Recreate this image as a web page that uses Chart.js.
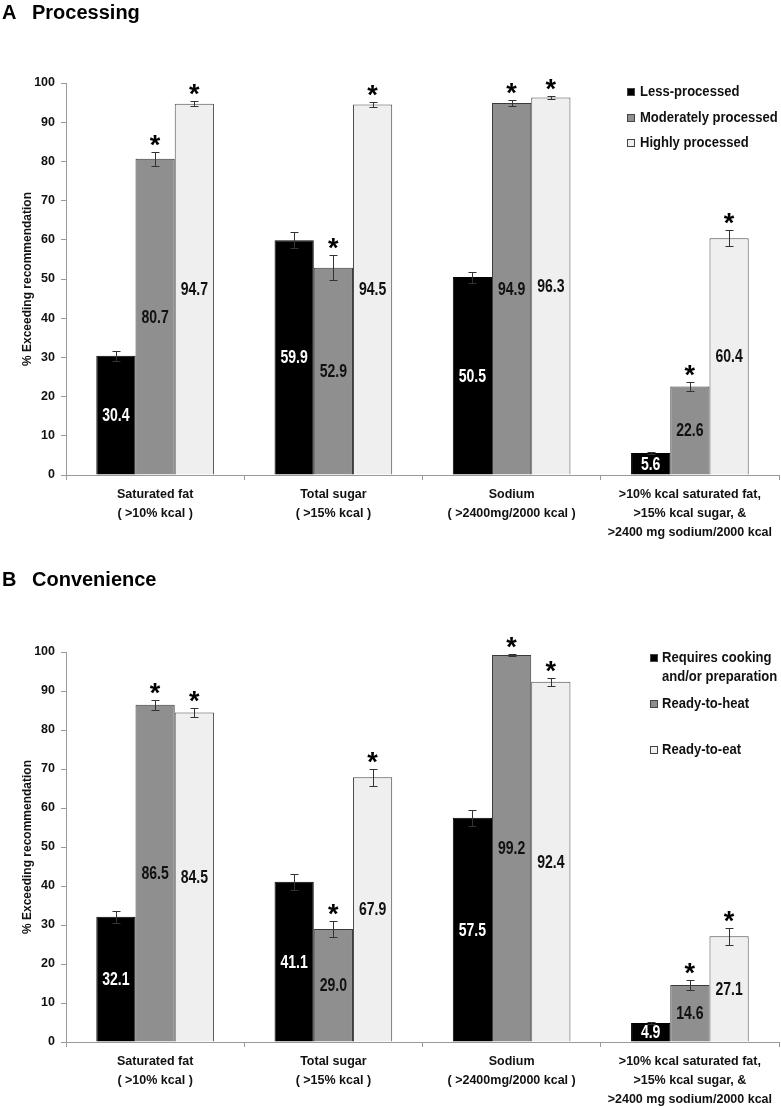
<!DOCTYPE html>
<html>
<head>
<meta charset="utf-8">
<script src="https://cdn.jsdelivr.net/npm/chart.js@4.4.1/dist/chart.umd.min.js"></script>
<style>
  body { margin: 0; background: #fff; width: 781px; height: 1106px; overflow: hidden; position: relative; }
  .panel { position: absolute; left: 0; width: 781px; height: 553px; }
</style>
</head>
<body>
<div class="panel" style="top:0"><canvas id="chartA" width="781" height="553"></canvas></div>
<div class="panel" style="top:567px"><canvas id="chartB" width="781" height="553"></canvas></div>
<script>
const FONT = "'Liberation Sans', Arial, sans-serif";

// x categories (multi-line)
const categories = [
  ['Saturated fat', '( >10% kcal )'],
  ['Total sugar', '( >15% kcal )'],
  ['Sodium', '( >2400mg/2000 kcal )'],
  ['>10% kcal saturated fat,', '>15% kcal sugar, &', '>2400 mg sodium/2000 kcal']
];

// Panel A - processing
const procLabels = ['Less-processed', 'Moderately processed', 'Highly processed'];
const lessProcessed = [30.4, 59.9, 50.5, 5.6];
const lessProcessedErr = [1.3, 2.1, 1.4, 0.3];
const lessProcessedSig = [false, false, false, false];
const modProcessed = [80.7, 52.9, 94.9, 22.6];
const modProcessedErr = [1.8, 3.1, 0.65, 1.15];
const modProcessedSig = [true, true, true, true];
const highProcessed = [94.7, 94.5, 96.3, 60.4];
const highProcessedErr = [0.6, 0.6, 0.4, 2.0];
const highProcessedSig = [true, true, true, true];

// Panel B - convenience
const convLabels = [['Requires cooking', 'and/or preparation'], 'Ready-to-heat', 'Ready-to-eat'];
const reqCooking = [32.1, 41.1, 57.5, 4.9];
const reqCookingErr = [1.5, 2.1, 2.0, 0.3];
const reqCookingSig = [false, false, false, false];
const readyHeat = [86.5, 29.0, 99.2, 14.6];
const readyHeatErr = [1.3, 2.0, 0.2, 1.3];
const readyHeatSig = [true, true, true, true];
const readyEat = [84.5, 67.9, 92.4, 27.1];
const readyEatErr = [1.2, 2.2, 1.0, 2.1];
const readyEatSig = [true, true, true, true];

const yTicks = [0, 10, 20, 30, 40, 50, 60, 70, 80, 90, 100];

const fills = ['#000000', '#8f8f8f', '#efefef'];
const edges = ['#000000', '#3a3a3a', '#4a4a4a'];

// draw text squeezed horizontally (the original uses a narrow face)
function narrowText(ctx, text, x, y, squeeze) {
  ctx.save();
  ctx.translate(x, y);
  ctx.scale(squeeze, 1);
  ctx.fillText(text, 0, 0);
  ctx.restore();
}

// error bars, values inside bars, asterisks
const barMarks = {
  id: 'barMarks',
  afterDatasetsDraw(chart) {
    const ctx = chart.ctx;
    const ys = chart.scales.y;
    chart.data.datasets.forEach((ds, i) => {
      chart.getDatasetMeta(i).data.forEach((bar, j) => {
        const v = ds.data[j];
        const e = ds.errors[j];
        const yTop = Math.round(ys.getPixelForValue(v + e)) + 0.5;
        const yBot = Math.round(ys.getPixelForValue(v - e)) + 0.5;
        const x = Math.round(bar.x) + 0.5;
        ctx.save();
        ctx.strokeStyle = '#333';
        ctx.lineWidth = 1;
        ctx.beginPath();
        ctx.moveTo(x, yTop); ctx.lineTo(x, yBot);
        ctx.moveTo(x - 4, yTop); ctx.lineTo(x + 4, yTop);
        ctx.moveTo(x - 4, yBot); ctx.lineTo(x + 4, yBot);
        ctx.stroke();

        ctx.fillStyle = i === 0 ? '#fff' : '#111';
        ctx.font = 'bold 18px ' + FONT;
        ctx.textAlign = 'center';
        ctx.textBaseline = 'middle';
        narrowText(ctx, v.toFixed(1), bar.x, (bar.y + bar.base) / 2 + 1, 0.78);

        if (ds.sig[j]) {
          ctx.fillStyle = '#000';
          ctx.font = 'bold 27px ' + FONT;
          ctx.textBaseline = 'alphabetic';
          ctx.fillText('*', bar.x, yTop + 1);
        }
        ctx.restore();
      });
    });
  }
};

const boxLegend = {
  id: 'boxLegend',
  afterDraw(chart, args, opts) {
    const ctx = chart.ctx;
    ctx.save();
    ctx.font = 'bold 15px ' + FONT;
    ctx.textBaseline = 'middle';
    ctx.textAlign = 'left';
    chart.data.datasets.forEach((ds, i) => {
      const y0 = opts.rows[i];
      ctx.fillStyle = ds.backgroundColor;
      ctx.fillRect(opts.x, y0 - 4, 8, 8);
      ctx.strokeStyle = '#444';
      ctx.lineWidth = 1;
      ctx.strokeRect(opts.x + 0.5, y0 - 3.5, 7, 7);
      ctx.fillStyle = '#111';
      [].concat(ds.label).forEach((t, k) => narrowText(ctx, t, opts.textX, y0 + k * 19, 0.87));
    });
    ctx.restore();
  }
};

const panelTitle = {
  id: 'panelTitle',
  afterDraw(chart, args, opts) {
    const ctx = chart.ctx;
    ctx.save();
    ctx.fillStyle = '#000';
    ctx.font = 'bold 20px ' + FONT;
    ctx.textBaseline = 'middle';
    ctx.fillText(opts.letter, 2, 13);
    ctx.fillText(opts.text, 32, 13);
    ctx.restore();
  }
};

function makeChart(id, names, series, errs, sigs, title, legend, topPad) {
  const datasets = series.map((s, i) => ({
    label: names[i],
    data: s,
    errors: errs[i],
    sig: sigs[i],
    backgroundColor: fills[i],
    borderColor: edges[i],
    borderWidth: 1,
    categoryPercentage: 0.66,
    barPercentage: 1.0
  }));

  new Chart(document.getElementById(id), {
    type: 'bar',
    data: { labels: categories, datasets },
    options: {
      responsive: false,
      animation: false,
      devicePixelRatio: 1,
      layout: { padding: { top: topPad, right: 2, bottom: 0, left: 0 } },
      plugins: {
        legend: { display: false },
        tooltip: { enabled: false },
        panelTitle: title,
        boxLegend: legend
      },
      scales: {
        x: {
          afterFit: (scale) => { scale.height = 553 - 475; },
          grid: { drawOnChartArea: false, tickLength: 5, color: '#9a9a9a', offset: true },
          border: { color: '#9a9a9a' },
          ticks: {
            color: '#111',
            font: { family: FONT, size: 12.5, weight: 'bold', lineHeight: 1.52 },
            padding: 5,
            maxRotation: 0,
            autoSkip: false
          }
        },
        y: {
          min: 0,
          max: 100,
          afterFit: (scale) => { scale.width = 66; },
          afterBuildTicks: (scale) => { scale.ticks = yTicks.map(v => ({ value: v })); },
          grid: { drawOnChartArea: false, tickLength: 5, color: '#9a9a9a' },
          border: { color: '#9a9a9a' },
          ticks: {
            color: '#111',
            font: { family: FONT, size: 12.5, weight: 'bold' },
            padding: 6
          },
          title: {
            display: true,
            text: '% Exceeding recommendation',
            color: '#111',
            font: { family: FONT, size: 12, weight: 'bold' },
            padding: { top: 20, bottom: 0 }
          }
        }
      }
    },
    plugins: [barMarks, boxLegend, panelTitle]
  });
}

makeChart('chartA', procLabels,
  [lessProcessed, modProcessed, highProcessed],
  [lessProcessedErr, modProcessedErr, highProcessedErr],
  [lessProcessedSig, modProcessedSig, highProcessedSig],
  { letter: 'A', text: 'Processing' },
  { x: 627, textX: 640, rows: [92, 118, 143] },
  83);

makeChart('chartB', convLabels,
  [reqCooking, readyHeat, readyEat],
  [reqCookingErr, readyHeatErr, readyEatErr],
  [reqCookingSig, readyHeatSig, readyEatSig],
  { letter: 'B', text: 'Convenience' },
  { x: 650, textX: 662, rows: [91, 137, 183] },
  85);
</script>
</body>
</html>
